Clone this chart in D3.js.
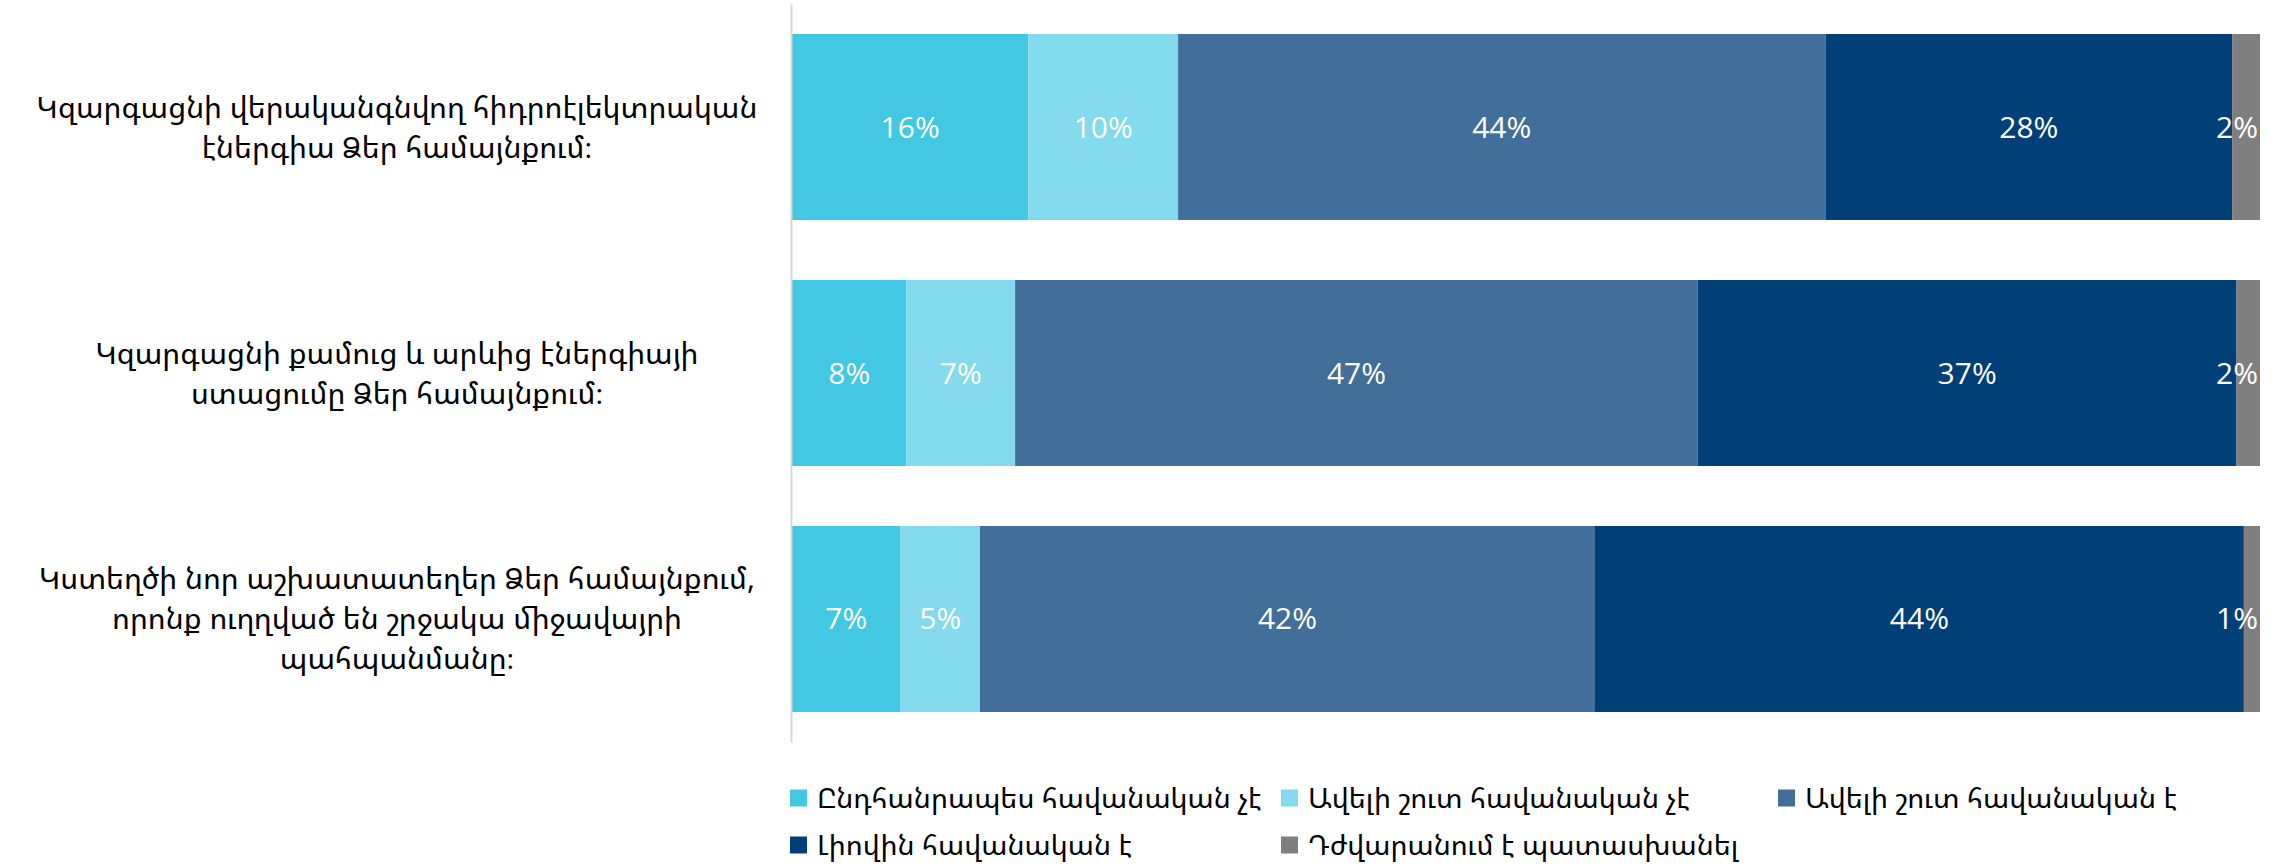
<!DOCTYPE html>
<html>
<head>
<meta charset="utf-8">
<script src="https://cdn.jsdelivr.net/npm/d3@7"></script>
<style>
  html, body { margin: 0; padding: 0; background: #fff; }
  svg { display: block; }
</style>
</head>
<body>
<svg id="chart" width="2282" height="867"></svg>
<script>
// ---- data ----
const categories = [
  "Կզարգացնի վերականգնվող հիդրոէլեկտրական էներգիա Ձեր համայնքում։",
  "Կզարգացնի քամուց և արևից էներգիայի ստացումը Ձեր համայնքում։",
  "Կստեղծի նոր աշխատատեղեր Ձեր համայնքում, որոնք ուղղված են շրջակա միջավայրի պահպանմանը։"
];
const categoryLines = [
  ["Կզարգացնի վերականգնվող հիդրոէլեկտրական", "էներգիա Ձեր համայնքում։"],
  ["Կզարգացնի քամուց և արևից էներգիայի", "ստացումը Ձեր համայնքում։"],
  ["Կստեղծի նոր աշխատատեղեր Ձեր համայնքում,", "որոնք ուղղված են շրջակա միջավայրի", "պահպանմանը։"]
];
const seriesNames = [
  "Ընդհանրապես հավանական չէ",
  "Ավելի շուտ հավանական չէ",
  "Ավելի շուտ հավանական է",
  "Լիովին հավանական է",
  "Դժվարանում է պատասխանել"
];
const notAtAll   = [16.1, 7.8, 7.4];
const ratherNot  = [10.2, 7.4, 5.4];
const ratherYes  = [44.1, 46.5, 41.9];
const fullyYes   = [27.7, 36.7, 44.2];
const hardToSay  = [1.9, 1.6, 1.1];
const seriesValues = [notAtAll, ratherNot, ratherYes, fullyYes, hardToSay];
const colors = ["#42C8E3", "#82DAEC", "#416F99", "#003F78", "#7F7F7F"];

// ---- layout ----
const svg = d3.select("#chart");
const armFont = "'Noto Sans Armenian', 'DejaVu Sans', sans-serif";
const numFont = "'Segoe UI', 'Open Sans', 'Noto Sans', sans-serif";

const x = d3.scaleLinear().domain([0, 100]).range([792, 2260]);
const y = d3.scaleBand().domain(categories).range([4, 742])
  .paddingInner(0.2439).paddingOuter(0.122);

const rows = categories.map((c, i) => {
  const r = { cat: c };
  seriesNames.forEach((s, j) => r[s] = seriesValues[j][i]);
  return r;
});
const stacked = d3.stack().keys(seriesNames)(rows);

// bars
const g = svg.append("g");
stacked.forEach((layer, j) => {
  const lg = g.append("g");
  lg.selectAll("rect").data(layer).join("rect")
    .attr("x", d => x(d[0]))
    .attr("y", d => y(d.data.cat))
    .attr("width", d => x(d[1]) - x(d[0]))
    .attr("height", y.bandwidth())
    .attr("fill", colors[j]);
  lg.selectAll("text").data(layer).join("text")
    .attr("x", d => (x(d[0]) + x(d[1])) / 2)
    .attr("y", d => y(d.data.cat) + y.bandwidth() / 2)
    .attr("dy", "0.35em")
    .attr("text-anchor", "middle")
    .attr("fill", "#fff")
    .style("font-family", numFont)
    .style("font-size", "30px")
    .text(d => d3.format(".0f")(d[1] - d[0]) + "%")
    .each(function(d) {
      const w = this.getComputedTextLength();
      const cx = (x(d[0]) + x(d[1])) / 2;
      const maxR = x(100) - 2;
      if (cx + w / 2 > maxR) d3.select(this).attr("x", maxR - w / 2);
    });
});

// vertical axis line
const axis = svg.append("g")
  .attr("transform", `translate(${x(0) - 1},0)`)
  .call(d3.axisLeft(y).tickSize(0).tickFormat(""));
axis.select(".domain").attr("stroke", "#d9d9d9").attr("stroke-width", 2);

// category labels
const labelCx = 397, lineH = 40;
categories.forEach((c, i) => {
  const lines = categoryLines[i];
  const cy = y(c) + y.bandwidth() / 2;
  const t = svg.append("text")
    .attr("text-anchor", "middle")
    .style("font-family", armFont)
    .style("font-size", "30px")
    .attr("fill", "#000");
  lines.forEach((ln, k) => {
    t.append("tspan")
      .attr("x", labelCx)
      .attr("y", cy + (k - (lines.length - 1) / 2) * lineH)
      .attr("dy", "0.35em")
      .text(ln);
  });
});

// legend
const legendPos = [[790, 798], [1281, 798], [1778, 798], [790, 845], [1281, 845]];
seriesNames.forEach((s, j) => {
  const [lx, ly] = legendPos[j];
  svg.append("rect").attr("x", lx).attr("y", ly - 8.5).attr("width", 17).attr("height", 17)
    .attr("fill", colors[j]);
  svg.append("text").attr("x", lx + 27).attr("y", ly).attr("dy", "0.35em")
    .style("font-family", armFont).style("font-size", "28.5px").attr("fill", "#000")
    .text(s);
});
</script>
</body>
</html>
